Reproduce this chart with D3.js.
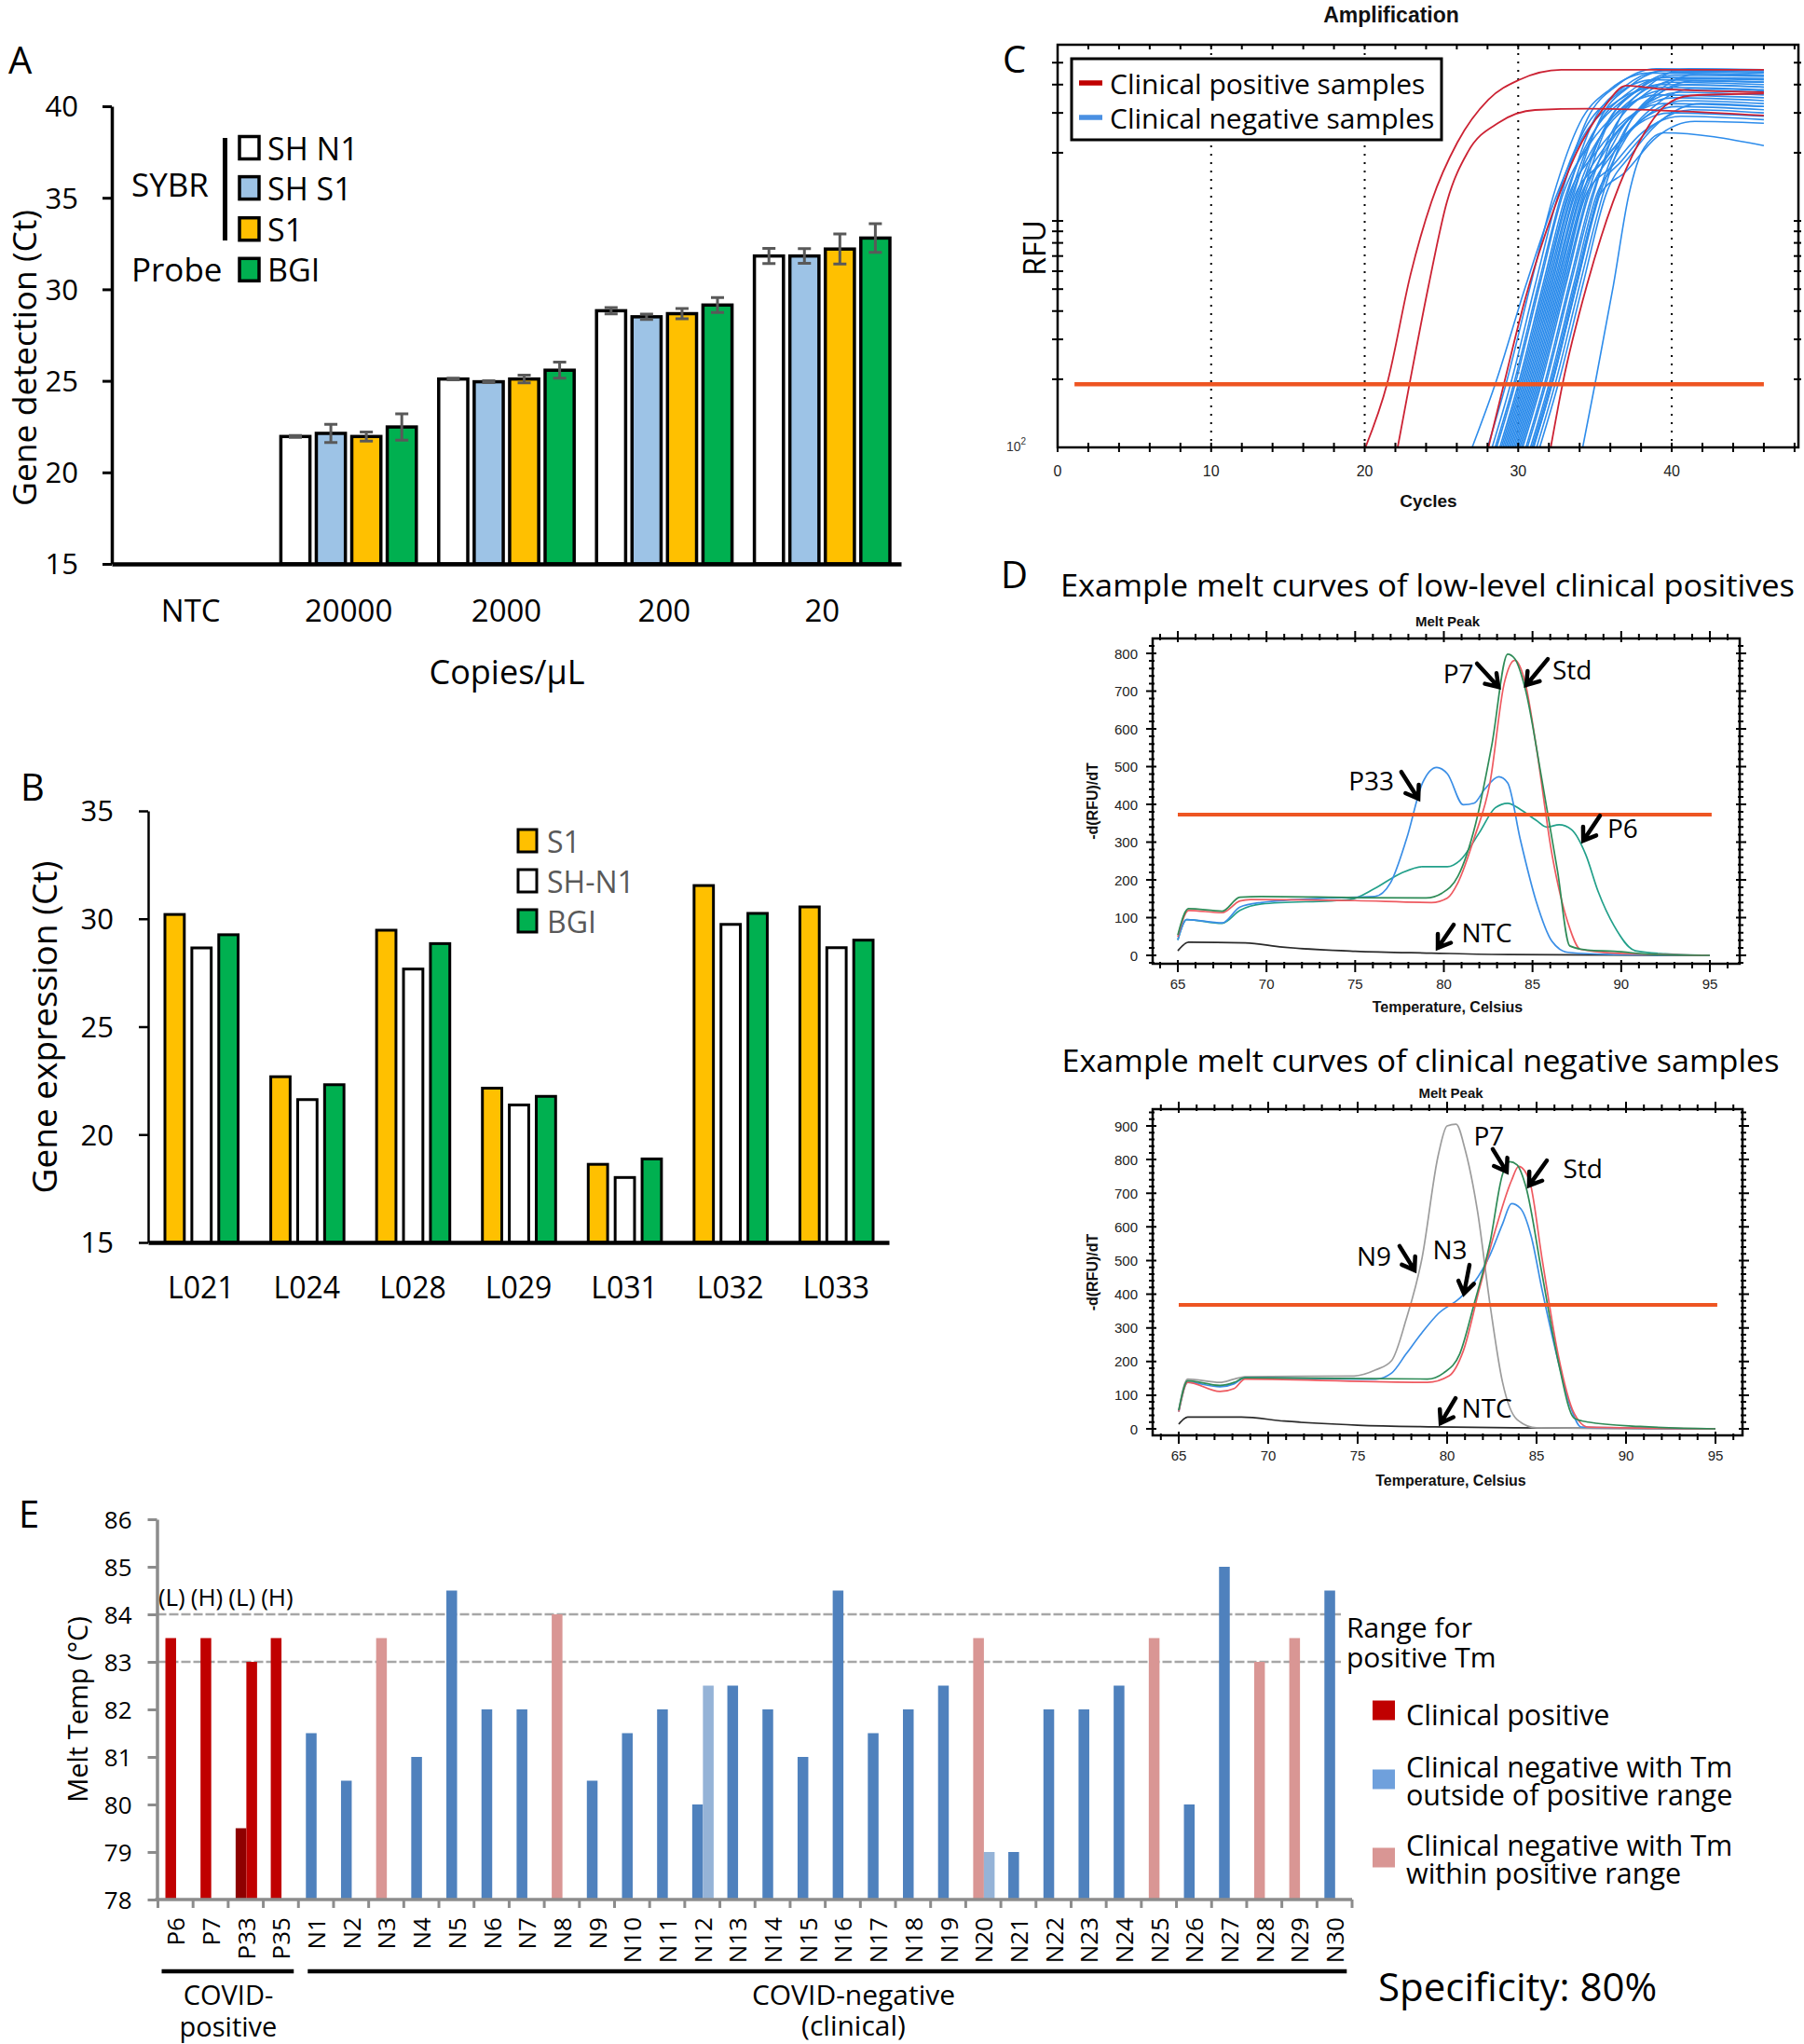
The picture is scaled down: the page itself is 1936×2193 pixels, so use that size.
<!DOCTYPE html>
<html><head><meta charset="utf-8">
<script src="https://cdn.jsdelivr.net/npm/d3@7"></script>
<style>html,body{margin:0;padding:0;background:#fff}svg{display:block}</style>
</head><body>
<svg id="fig" width="1936" height="2193" xmlns="http://www.w3.org/2000/svg"></svg>
<script>
// ================= DATA =================
// Panel A
const catsA = ["NTC","20000","2000","200","20"];
const seriesA = ["SH N1","SH S1","S1","BGI"];
const ctA_SHN1 = [null,21.96,25.10,28.83,31.82];
const ctA_SHS1 = [null,22.13,24.95,28.50,31.82];
const ctA_S1   = [null,21.96,25.10,28.67,32.20];
const ctA_BGI  = [null,22.48,25.58,29.14,32.80];
const sdA_SHN1 = [null,0.05,0.05,0.17,0.41];
const sdA_SHS1 = [null,0.50,0.05,0.15,0.40];
const sdA_S1   = [null,0.25,0.21,0.28,0.82];
const sdA_BGI  = [null,0.72,0.44,0.41,0.78];
const ticksA = [15,20,25,30,35,40];

// Panel B
const catsB = ["L021","L024","L028","L029","L031","L032","L033"];
const seriesB = ["S1","SH-N1","BGI"];
const ctB_S1   = [30.20,22.68,29.47,22.15,18.62,31.54,30.55];
const ctB_SHN1 = [28.65,21.62,27.67,21.37,18.01,29.74,28.66];
const ctB_BGI  = [29.26,22.31,28.85,21.77,18.87,30.25,29.01];
const ticksB = [15,20,25,30,35];

// Panel C  (cycle, RFU)
const ampPositive = [
 [[20.05,100],[21.47,192],[22.99,581],[24.35,1216],[26.04,2223],[28.06,3434],[30.09,4207],[32.8,4654],[46,4654]],
 [[22.15,100],[22.93,192],[24.18,525],[25.36,1216],[26.71,2010],[28.74,2718],[31.1,3090],[34.5,3130],[46,2924]],
 [[28.06,100],[29.08,192],[30.43,446],[32.12,1028],[33.81,2010],[35.5,3110],[37.03,3960],[39.2,3830],[46,3706]],
 [[32.12,100],[32.9,192],[34.49,525],[36.18,1216],[37.87,2223],[39.56,3222],[41.25,3580],[46,3656]]
];
const ampNegative = [
 [[27.0,100],[28.5,190],[30.5,520],[32.5,1300],[34.3,2400],[36.5,3400],[39.0,3900],[46,3800]],
 [[28.0,100],[29.2,190],[30.8,520],[32.3,1300],[34.0,2700],[36.0,3825],[38.5,4500],[46,4400]],
 [[28.3,100],[29.5,190],[31.1,520],[32.6,1300],[34.3,2520],[36.3,3570],[38.8,4200],[46,4100]],
 [[28.5,100],[29.7,190],[31.3,520],[32.8,1300],[34.5,2820],[36.5,3995],[39.0,4700],[46,4650]],
 [[28.6,100],[29.8,190],[31.4,520],[32.9,1300],[34.6,2160],[36.6,3060],[39.1,3600],[46,3500]],
 [[28.8,100],[30.0,190],[31.6,520],[33.1,1300],[34.8,2400],[36.8,3400],[39.3,4000],[46,3900]],
 [[28.9,100],[30.1,190],[31.7,520],[33.2,1300],[34.9,2760],[36.9,3910],[39.4,4600],[46,4550]],
 [[29.0,100],[30.2,190],[31.8,520],[33.3,1300],[35.0,1980],[37.0,2805],[39.5,3300],[46,3200]],
 [[29.1,100],[30.3,190],[31.9,520],[33.4,1300],[35.1,2580],[37.1,3655],[39.6,4300],[46,4250]],
 [[29.2,100],[30.4,190],[32.0,520],[33.5,1300],[35.2,2280],[37.2,3230],[39.7,3800],[46,3700]],
 [[29.3,100],[30.5,190],[32.1,520],[33.6,1300],[35.3,2790],[37.3,3950],[39.8,4650],[46,4600]],
 [[29.4,100],[30.6,190],[32.2,520],[33.7,1300],[35.4,1800],[37.4,2550],[39.9,3000],[46,2900]],
 [[29.5,100],[30.7,190],[32.3,520],[33.8,1300],[35.5,2460],[37.5,3485],[40.0,4100],[46,4000]],
 [[29.6,100],[30.8,190],[32.4,520],[33.9,1300],[35.6,2100],[37.6,2975],[40.1,3500],[46,3400]],
 [[29.7,100],[30.9,190],[32.5,520],[34.0,1300],[35.7,2640],[37.7,3740],[40.2,4400],[46,4350]],
 [[29.8,100],[31.0,190],[32.6,520],[34.1,1300],[35.8,1920],[37.8,2720],[40.3,3200],[46,3100]],
 [[29.9,100],[31.1,190],[32.7,520],[34.2,1300],[35.9,2730],[37.9,3870],[40.4,4550],[46,4500]],
 [[30.0,100],[31.2,190],[32.8,520],[34.3,1300],[36.0,2220],[38.0,3145],[40.5,3700],[46,3600]],
 [[30.1,100],[31.3,190],[32.9,520],[34.4,1300],[36.1,1740],[38.1,2465],[40.6,2900],[46,2800]],
 [[30.2,100],[31.4,190],[33.0,520],[34.5,1300],[36.2,2550],[38.2,3610],[40.7,4250],[46,4200]],
 [[30.3,100],[31.5,190],[33.1,520],[34.6,1300],[36.3,2040],[38.3,2890],[40.8,3400],[46,3300]],
 [[30.5,100],[31.7,190],[33.3,520],[34.8,1300],[36.5,2400],[38.5,3400],[41.0,4000],[46,3900]],
 [[30.6,100],[31.8,190],[33.4,520],[34.9,1300],[36.6,2820],[38.6,3995],[41.1,4700],[46,4650]],
 [[30.8,100],[32.0,190],[33.6,520],[35.1,1300],[36.8,1860],[38.8,2635],[41.3,3100],[46,3000]],
 [[31.0,100],[32.2,190],[33.8,520],[35.3,1300],[37.0,2310],[39.0,3270],[41.5,3850],[46,3750]],
 [[31.2,100],[32.4,190],[34.0,520],[35.5,1300],[37.2,2670],[39.2,3780],[41.7,4450],[46,4400]],
 [[31.4,100],[32.6,190],[34.2,520],[35.7,1300],[37.4,1980],[39.4,2805],[41.9,3300],[46,3200]],
 [[31.0,100],[32.2,190],[33.8,520],[35.3,1300],[37.0,1650],[39.0,2340],[41.5,2750],[46,2700]],
 [[30.9,100],[32.1,190],[33.7,520],[35.2,1300],[36.9,2490],[38.9,3530],[41.4,4150],[46,4100]],
 [[34.2,100],[35.0,190],[36.2,520],[37.2,1300],[38.2,2100],[39.5,2450],[46,2150]]
];
const ampThreshold = 190;
const ampThreshRange = [1.1, 46];
const cyclesTicks = [0,10,20,30,40];
const cyclesGrid = [10,20,30,40];
const rfuTicks = [200,300,400,500,600,700,800,900,1000,2000,3000,4000,5000];

// Panel D (temperature °C, -d(RFU)/dT)
const meltTopStd = [[65,49],[65.6,119],[67.5,113],[68.5,144],[69.1,148],[75,145],[79.3,140],[80.2,152],[80.8,193],[81.7,309],[82.6,457],[83.4,720],[84,782],[84.6,720],[85.2,556],[86.1,267],[87,86],[87.7,16],[89.6,6],[95,0]];
const meltTopP7 = [[65,54],[65.6,124],[67.5,117],[68.5,154],[69.7,156],[75,153],[79,152],[79.9,165],[80.8,210],[81.8,350],[82.7,556],[83.6,798],[84,786],[84.6,704],[85.5,473],[86.4,226],[87.1,25],[88.1,14],[89.6,11],[91.9,2],[95,0]];
const meltTopP33 = [[65,41],[65.5,95],[67.5,86],[68.5,128],[69.7,140],[73.5,152],[76.1,156],[77,193],[77.9,309],[78.8,457],[79.6,498],[80.2,481],[81.1,399],[81.7,403],[82.3,440],[83.1,473],[83.6,457],[84.3,309],[85.2,144],[86.1,37],[87,8],[89.6,2],[95,0]];
const meltTopP6 = [[65,41],[65.5,95],[67.5,85],[68.5,119],[69.7,136],[74.7,148],[76.1,177],[77.6,218],[78.8,235],[80.2,235],[80.9,251],[82,325],[82.9,391],[83.6,403],[84.3,387],[85.2,358],[85.8,340],[86.5,346],[87.2,333],[88,267],[88.7,169],[89.6,78],[90.8,12],[92.5,4],[95,0]];
const meltTopNTC = [[65,12],[65.6,35],[68.8,33],[70.9,22],[75,11],[79.3,6],[83.7,2],[95,0]];
const meltBotN9 = [[65,55],[65.5,148],[67.3,138],[68.1,148],[68.7,155],[74.8,157],[76,175],[76.9,203],[77.7,323],[78.6,508],[79.5,812],[80,900],[80.5,905],[81,831],[81.7,646],[82.4,369],[83.1,138],[83.9,28],[85,3],[95,0]];
const meltBotN3 = [[65,51],[65.5,138],[67.3,125],[68.1,134],[68.7,152],[76,148],[76.9,166],[77.7,222],[78.6,286],[79.5,342],[80.7,388],[81.5,434],[82.4,517],[83.1,609],[83.6,669],[84.1,655],[84.7,572],[85.3,415],[86.2,203],[86.9,65],[87.5,5],[95,0]];
const meltBotP7 = [[65,55],[65.5,143],[67.3,129],[68.1,138],[68.7,152],[78.9,148],[79.8,166],[80.7,222],[81.5,369],[82.4,554],[83.1,757],[83.5,794],[83.9,785],[84.4,720],[85.3,462],[86.2,203],[87.1,32],[87.9,20],[90.8,7],[95,0]];
const meltBotStd = [[65,51],[65.5,138],[67.3,111],[68.1,120],[68.7,148],[78.9,138],[80.1,157],[80.9,231],[81.8,415],[82.7,591],[83.6,738],[84,780],[84.6,738],[85.3,508],[86.2,222],[87.1,46],[87.9,5],[95,0]];
const meltBotNTC = [[65,14],[65.5,35],[68.5,35],[70.9,23],[75,11],[79.3,6],[83.7,3],[95,0]];
const meltThreshTop = 373, meltThreshBot = 368;
const annTop = [
 {label:"P7", tx:80.82, ty:749, anchor:"middle", from:[81.87,773], to:[83.08,711]},
 {label:"Std", tx:86.12, ty:758, anchor:"start", from:[85.86,785], to:[84.65,716]},
 {label:"P33", tx:77.19, ty:465, anchor:"end", from:[77.6,486], to:[78.56,415]},
 {label:"P6", tx:89.22, ty:338, anchor:"start", from:[88.8,370], to:[87.86,304]},
 {label:"NTC", tx:81.0, ty:62, anchor:"start", from:[80.55,81], to:[79.66,20]}
];
const annBot = [
 {label:"P7", tx:82.34, ty:872, anchor:"middle", from:[82.55,831], to:[83.33,764]},
 {label:"Std", tx:86.48, ty:775, anchor:"start", from:[85.57,797], to:[84.58,723]},
 {label:"N9", tx:76.88, ty:515, anchor:"end", from:[77.34,543], to:[78.18,471]},
 {label:"N3", tx:80.16, ty:534, anchor:"middle", from:[81.25,487], to:[80.94,402]},
 {label:"NTC", tx:80.81, ty:64, anchor:"start", from:[80.47,91], to:[79.64,17]}
];

// Panel E
const catsE = ["P6","P7","P33","P35","N1","N2","N3","N4","N5","N6","N7","N8","N9","N10","N11","N12","N13","N14","N15","N16","N17","N18","N19","N20","N21","N22","N23","N24","N25","N26","N27","N28","N29","N30"];
const tmPrimary = [83.5,83.5,79.5,83.5,81.5,80.5,83.5,81,84.5,82,82,84,80.5,81.5,82,80,82.5,82,81,84.5,81.5,82,82.5,83.5,79,82,82,82.5,83.5,80,85,83,83.5,84.5];
const grpPrimary = ["pos","pos","posLow","pos","out","out","in","out","out","out","out","in","out","out","out","out","out","out","out","out","out","out","out","in","out","out","out","out","in","out","out","in","in","out"];
const tmSecondary = [null,null,83,null,null,null,null,null,null,null,null,null,null,null,null,82.5,null,null,null,null,null,null,null,79,null,null,null,null,null,null,null,null,null,null];
const grpSecondary = [null,null,"pos",null,null,null,null,null,null,null,null,null,null,null,null,"outLight",null,null,null,null,null,null,null,"outLight",null,null,null,null,null,null,null,null,null,null];
const ticksE = [78,79,80,81,82,83,84,85,86];
const tmRange = [83,84];
const lhLabels = ["(L)","(H)","(L)","(H)"];

// ================= DRAW =================
const svg = d3.select("#fig");
const FS = '"Open Sans","Noto Sans",sans-serif';
const FA = '"Liberation Sans",Arial,sans-serif';
function T(g,x,y,s,o={}){
  const t=g.append("text").attr("x",x).attr("y",y)
   .attr("font-family",o.ff||FS).attr("font-size",o.fs||30).attr("fill",o.fill||"#000")
   .attr("text-anchor",o.anchor||"start").attr("dominant-baseline",o.base||"central");
  if(Array.isArray(s)){
    s.forEach((line,i)=>t.append("tspan").attr("x",x).attr("dy",i===0?0:(o.lh||30)).text(line));
  } else t.text(s);
  if(o.fw) t.attr("font-weight",o.fw);
  if(o.rot) t.attr("transform",`rotate(${o.rot},${x},${y})`);
  if(o.len) t.attr("textLength",o.len).attr("lengthAdjust","spacingAndGlyphs");
  return t;
}
function styleAxis(ax,o){
  ax.select(".domain").attr("stroke",o.color||"#000").attr("stroke-width",o.dw||3);
  ax.selectAll(".tick line").attr("stroke",o.color||"#000").attr("stroke-width",o.tw||3);
  ax.selectAll(".tick text").attr("font-family",o.ff||FS).attr("font-size",o.fs||30).attr("fill",o.fill||"#000");
}

// ---------- Panel A ----------
(function(){
  const g=svg.append("g");
  T(g,9,79,"A",{fs:40,base:"alphabetic"});
  const yA=d3.scaleLinear().domain([15,40]).range([605,114]);
  const xA=d3.scaleBand().domain(catsA).range([120,967]);
  const xA1=d3.scaleBand().domain(seriesA).range([12,xA.bandwidth()-12]).paddingInner(0.18);
  const ct=[ctA_SHN1,ctA_SHS1,ctA_S1,ctA_BGI], sd=[sdA_SHN1,sdA_SHS1,sdA_S1,sdA_BGI];
  const col=["#FFFFFF","#9DC3E6","#FFC000","#00B050"];
  seriesA.forEach((s,i)=>{
    const rows=catsA.map((c,j)=>({c,v:ct[i][j],e:sd[i][j]})).filter(d=>d.v!=null);
    g.selectAll(null).data(rows).enter().append("rect")
      .attr("x",d=>xA(d.c)+xA1(s)).attr("y",d=>yA(d.v))
      .attr("width",xA1.bandwidth()).attr("height",d=>yA(15)-yA(d.v))
      .attr("fill",col[i]).attr("stroke","#000").attr("stroke-width",3.5);
    g.selectAll(null).data(rows).enter().append("path")
      .attr("d",d=>{const cx=xA(d.c)+xA1(s)+xA1.bandwidth()/2;return `M${cx},${yA(d.v-d.e)}V${yA(d.v+d.e)}M${cx-7},${yA(d.v-d.e)}h14M${cx-7},${yA(d.v+d.e)}h14`;})
      .attr("stroke","#595959").attr("stroke-width",3).attr("fill","none");
  });
  const ay=g.append("g").attr("transform","translate(120,0)")
    .call(d3.axisLeft(yA).tickValues(ticksA).tickSize(10).tickSizeOuter(0).tickPadding(26));
  styleAxis(ay,{dw:3.5,tw:3,fs:31});
  ay.selectAll(".tick text").attr("dy","0.35em");
  const ax=g.append("g").attr("transform","translate(0,605)")
    .call(d3.axisBottom(xA).tickSize(0).tickSizeOuter(0));
  styleAxis(ax,{dw:4.5,fs:33});
  ax.selectAll(".tick text").attr("y",50).attr("dy","0.35em");
  T(g,544,720,"Copies/µL",{fs:36,anchor:"middle"});
  T(g,25,384,"Gene detection (Ct)",{fs:35.5,anchor:"middle",rot:-90});
  T(g,141,197,"SYBR",{fs:35});
  T(g,141,288,"Probe",{fs:35});
  g.append("rect").attr("x",239).attr("y",148).attr("width",5).attr("height",110).attr("fill","#000");
  const ly=[158.5,201.6,245.7,289.3];
  seriesA.forEach((s,i)=>{
    g.append("rect").attr("x",257).attr("y",ly[i]-12).attr("width",21).attr("height",24)
      .attr("fill",col[i]).attr("stroke","#000").attr("stroke-width",3.5);
    T(g,287,ly[i],s,{fs:34});
  });
})();

// ---------- Panel B ----------
(function(){
  const g=svg.append("g");
  T(g,22,859,"B",{fs:40,base:"alphabetic"});
  const yB=d3.scaleLinear().domain([15,35]).range([1333,870]);
  const xB=d3.scaleBand().domain(catsB).range([159,954]);
  const xB1=d3.scaleBand().domain(seriesB).range([18,xB.bandwidth()-17]).paddingInner(0.28);
  const ct=[ctB_S1,ctB_SHN1,ctB_BGI];
  const col=["#FFC000","#FFFFFF","#00B050"];
  seriesB.forEach((s,i)=>{
    g.selectAll(null).data(catsB.map((c,j)=>({c,v:ct[i][j]}))).enter().append("rect")
      .attr("x",d=>xB(d.c)+xB1(s)).attr("y",d=>yB(d.v))
      .attr("width",xB1.bandwidth()).attr("height",d=>yB(15)-yB(d.v))
      .attr("fill",col[i]).attr("stroke","#000").attr("stroke-width",3);
  });
  const ay=g.append("g").attr("transform","translate(159,0)")
    .call(d3.axisLeft(yB).tickValues(ticksB).tickSize(10).tickSizeOuter(0).tickPadding(27));
  styleAxis(ay,{dw:2.5,tw:2.5,fs:31});
  ay.selectAll(".tick text").attr("dy","0.35em");
  const ax=g.append("g").attr("transform","translate(0,1333)")
    .call(d3.axisBottom(xB).tickSize(0).tickSizeOuter(0));
  styleAxis(ax,{dw:4.5,fs:32});
  ax.selectAll(".tick text").attr("y",49).attr("dy","0.35em");
  T(g,46,1102,"Gene expression (Ct)",{fs:37,anchor:"middle",rot:-90});
  const ly=[902,945,988];
  seriesB.forEach((s,i)=>{
    g.append("rect").attr("x",556).attr("y",ly[i]-12).attr("width",20).attr("height",24)
      .attr("fill",col[i]).attr("stroke","#000").attr("stroke-width",3);
    T(g,587,ly[i],s,{fs:32,fill:"#595959"});
  });
})();

// ---------- Panel C ----------
(function(){
  const g=svg.append("g");
  const xC=d3.scaleLinear().domain([0,48.25]).range([1135,1930]);
  const yC=d3.scaleLog().domain([100,6000]).range([480,48]);
  const [x0,x1]=xC.range(), y1=yC(100), y0=yC(6000);
  T(g,1493,16,"Amplification",{ff:FA,fs:23,fw:"bold",anchor:"middle",fill:"#111"});
  T(g,1076,78,"C",{fs:40,base:"alphabetic"});
  g.append("defs").append("clipPath").attr("id","clipC").append("rect")
    .attr("x",x0).attr("y",y0).attr("width",x1-x0).attr("height",y1-y0);
  g.selectAll(null).data(cyclesGrid).enter().append("line")
    .attr("x1",d=>xC(d)).attr("x2",d=>xC(d)).attr("y1",y0).attr("y2",y1)
    .attr("stroke","#000").attr("stroke-width",2).attr("stroke-dasharray","2,7");
  const line=d3.line().x(d=>xC(d[0])).y(d=>yC(d[1])).curve(d3.curveMonotoneX);
  const cg=g.append("g").attr("clip-path","url(#clipC)");
  cg.selectAll(null).data(ampNegative).enter().append("path").attr("d",line)
    .attr("fill","none").attr("stroke","#2D8CEB").attr("stroke-width",1.6);
  cg.selectAll(null).data(ampPositive).enter().append("path").attr("d",line)
    .attr("fill","none").attr("stroke","#CC2233").attr("stroke-width",1.8);
  g.append("line").attr("x1",xC(ampThreshRange[0])).attr("x2",xC(ampThreshRange[1]))
    .attr("y1",yC(ampThreshold)).attr("y2",yC(ampThreshold))
    .attr("stroke","#EE5522").attr("stroke-width",4.5);
  g.append("rect").attr("x",x0).attr("y",y0).attr("width",x1-x0).attr("height",y1-y0)
    .attr("fill","none").attr("stroke","#000").attr("stroke-width",2.5);
  const tk=d3.range(0,49,2);
  g.selectAll(null).data(tk).enter().append("line").attr("x1",d=>xC(d)).attr("x2",d=>xC(d))
    .attr("y1",y1-5).attr("y2",y1+5).attr("stroke","#000").attr("stroke-width",2);
  g.selectAll(null).data(tk).enter().append("line").attr("x1",d=>xC(d)).attr("x2",d=>xC(d))
    .attr("y1",y0).attr("y2",y0+5).attr("stroke","#000").attr("stroke-width",2);
  g.selectAll(null).data(rfuTicks).enter().append("line").attr("x1",x0-6).attr("x2",x0+6)
    .attr("y1",d=>yC(d)).attr("y2",d=>yC(d)).attr("stroke","#000").attr("stroke-width",2);
  g.selectAll(null).data(rfuTicks).enter().append("line").attr("x1",x1-5).attr("x2",x1+3)
    .attr("y1",d=>yC(d)).attr("y2",d=>yC(d)).attr("stroke","#000").attr("stroke-width",2);
  cyclesTicks.forEach(t=>T(g,xC(t),505,String(t),{ff:FA,fs:16,anchor:"middle",fill:"#222"}));
  const lab=g.append("text").attr("x",1080).attr("y",484).attr("font-family",FA).attr("font-size",14).attr("fill","#333");
  lab.append("tspan").text("10");
  lab.append("tspan").text("2").attr("font-size",10).attr("dy",-7);
  T(g,1533,537,"Cycles",{ff:FA,fs:19,fw:"bold",anchor:"middle",fill:"#111"});
  T(g,1109,266,"RFU",{fs:32,anchor:"middle",rot:-90});
  g.append("rect").attr("x",1150).attr("y",63).attr("width",397).attr("height",87)
    .attr("fill","#fff").attr("stroke","#000").attr("stroke-width",3);
  [["Clinical positive samples","#C00000",89],["Clinical negative samples","#4A90E2",126]].forEach(([s,c,y])=>{
    g.append("line").attr("x1",1158).attr("x2",1183).attr("y1",y).attr("y2",y).attr("stroke",c).attr("stroke-width",5.5);
    T(g,1191,y,s,{fs:30});
  });
})();

// ---------- Panel D ----------
function arrowPath(p1,p2){
  const a=Math.atan2(p2[1]-p1[1],p2[0]-p1[0]),L=15,sp=0.6;
  return `M${p1[0]},${p1[1]}L${p2[0]},${p2[1]}M${p2[0]-L*Math.cos(a-sp)},${p2[1]-L*Math.sin(a-sp)}L${p2[0]},${p2[1]}L${p2[0]-L*Math.cos(a+sp)},${p2[1]-L*Math.sin(a+sp)}`;
}
function meltPanel(cfg){
  const g=svg.append("g");
  const x=d3.scaleLinear().domain([65,95]).range(cfg.xr);
  const y=d3.scaleLinear().domain([0,cfg.ymax]).range(cfg.yr);
  const [fx0,fx1,fy0,fy1]=cfg.frame;
  T(g,(fx0+fx1)/2+cfg.titleDx,cfg.titleY,cfg.title,{fs:33,anchor:"middle",len:cfg.titleLen});
  T(g,x(80)+4,cfg.peakY,"Melt Peak",{ff:FA,fs:15,fw:"bold",anchor:"middle",fill:"#111"});
  const id="clip"+cfg.id;
  g.append("defs").append("clipPath").attr("id",id).append("rect")
    .attr("x",fx0).attr("y",fy0).attr("width",fx1-fx0).attr("height",fy1-fy0);
  const line=d3.line().x(d=>x(d[0])).y(d=>y(d[1])).curve(d3.curveMonotoneX);
  const cg=g.append("g").attr("clip-path",`url(#${id})`);
  cfg.curves.forEach(([data,color])=>cg.append("path").datum(data).attr("d",line)
    .attr("fill","none").attr("stroke",color).attr("stroke-width",1.7));
  g.append("line").attr("x1",x(65)).attr("x2",x(95.1)).attr("y1",y(cfg.thresh)).attr("y2",y(cfg.thresh))
    .attr("stroke","#EE5522").attr("stroke-width",4);
  g.append("rect").attr("x",fx0).attr("y",fy0).attr("width",fx1-fx0).attr("height",fy1-fy0)
    .attr("fill","none").attr("stroke","#000").attr("stroke-width",2.5);
  const yv=d3.range(Math.ceil(y.invert(fy1)/20)*20,y.invert(fy0),20);
  g.selectAll(null).data(yv).enter().append("path")
    .attr("d",v=>{const M=v%100===0,py=y(v);return `M${fx0-(M?7:4)},${py}H${fx0+(M?4:2)}M${fx1-(M?4:2)},${py}H${fx1+(M?7:4)}`;})
    .attr("stroke","#000").attr("stroke-width",2);
  const xv=d3.range(Math.ceil(x.invert(fx0)),x.invert(fx1));
  g.selectAll(null).data(xv).enter().append("path")
    .attr("d",t=>{const M=t%5===0,px=x(t);return `M${px},${fy1-(M?4:2)}V${fy1+(M?9:5)}M${px},${fy0-(M?8:5)}V${fy0+(M?4:2)}`;})
    .attr("stroke","#000").attr("stroke-width",2);
  d3.range(0,cfg.ymax+1,100).forEach(v=>T(g,fx0-16,y(v),String(v),{ff:FA,fs:15,anchor:"end",fill:"#222"}));
  d3.range(65,96,5).forEach(t=>T(g,x(t),fy1+21,String(t),{ff:FA,fs:15,anchor:"middle",fill:"#222"}));
  T(g,1172,(fy0+fy1)/2,"-d(RFU)/dT",{ff:FA,fs:16,fw:"bold",anchor:"middle",rot:-90,fill:"#111"});
  T(g,x(80)+4,cfg.xlabY,"Temperature, Celsius",{ff:FA,fs:16,fw:"bold",anchor:"middle",fill:"#111"});
  cfg.ann.forEach(a=>{
    g.append("path").attr("d",arrowPath([x(a.from[0]),y(a.from[1])],[x(a.to[0]),y(a.to[1])]))
      .attr("fill","none").attr("stroke","#000").attr("stroke-width",4.5).attr("stroke-linecap","round");
    T(g,x(a.tx),y(a.ty),a.label,{fs:28,anchor:a.anchor});
  });
  return g;
}
T(svg,1074,631,"D",{fs:40,base:"alphabetic"});
meltPanel({id:"top",xr:[1264,1835],ymax:800,yr:[1025,701],frame:[1237,1867,685,1034],
  title:"Example melt curves of low-level clinical positives",titleY:627,titleDx:-20,titleLen:788,
  peakY:666,xlabY:1080,thresh:meltThreshTop,ann:annTop,
  curves:[[meltTopNTC,"#2A2A2A"],[meltTopP6,"#22A08A"],[meltTopP33,"#3A8EE6"],[meltTopStd,"#EE5A60"],[meltTopP7,"#2E8B57"]]});
meltPanel({id:"bot",xr:[1265,1841],ymax:900,yr:[1533,1208],frame:[1237,1870,1190,1540],
  title:"Example melt curves of clinical negative samples",titleY:1137,titleDx:-29,titleLen:770,
  peakY:1172,xlabY:1588,thresh:meltThreshBot,ann:annBot,
  curves:[[meltBotNTC,"#2A2A2A"],[meltBotN9,"#9C9C9C"],[meltBotN3,"#3A8EE6"],[meltBotStd,"#EE5A60"],[meltBotP7,"#2E8B57"]]});

// ---------- Panel E ----------
(function(){
  const g=svg.append("g");
  T(g,20,1639,"E",{fs:40,base:"alphabetic"});
  const xE=d3.scaleBand().domain(catsE).range([169.5,1451]);
  const xE1=d3.scaleBand().domain([0,1]).range([8,31]);
  const yE=d3.scaleLinear().domain([78,86]).range([2038,1630]);
  const colE={pos:"#C00000",posLow:"#8E0000",out:"#4F81BD",outLight:"#95B3D7",in:"#D99694"};
  g.selectAll(null).data(tmRange).enter().append("line")
    .attr("x1",168.5).attr("x2",xE.range()[1]-12).attr("y1",d=>yE(d)).attr("y2",d=>yE(d))
    .attr("stroke","#A6A6A6").attr("stroke-width",2.5).attr("stroke-dasharray","10,3");
  const p=catsE.map((c,i)=>({c,v:tmPrimary[i],k:grpPrimary[i]}));
  const s=catsE.map((c,i)=>({c,v:tmSecondary[i],k:grpSecondary[i]})).filter(d=>d.v!=null);
  g.selectAll(null).data(p).enter().append("rect")
    .attr("x",d=>xE(d.c)+xE1(0)).attr("y",d=>yE(d.v)).attr("width",xE1.bandwidth())
    .attr("height",d=>yE(78)-yE(d.v)).attr("fill",d=>colE[d.k]);
  g.selectAll(null).data(s).enter().append("rect")
    .attr("x",d=>xE(d.c)+xE1(1)).attr("y",d=>yE(d.v)).attr("width",xE1.bandwidth())
    .attr("height",d=>yE(78)-yE(d.v)).attr("fill",d=>colE[d.k]);
  const ay=g.append("g").attr("transform","translate(168.5,0)")
    .call(d3.axisLeft(yE).tickValues(ticksE).tickSize(10).tickSizeOuter(0).tickPadding(17));
  styleAxis(ay,{color:"#8C8C8C",dw:3.5,tw:3,fs:26});
  ay.selectAll(".tick text").attr("dy","0.35em");
  g.append("line").attr("x1",166.5).attr("x2",xE.range()[1]).attr("y1",yE(78)).attr("y2",yE(78))
    .attr("stroke","#8C8C8C").attr("stroke-width",3.5);
  const bounds=catsE.map(c=>xE(c)).concat([xE.range()[1]]);
  g.selectAll(null).data(bounds).enter().append("line").attr("x1",d=>d).attr("x2",d=>d)
    .attr("y1",yE(78)).attr("y2",yE(78)+9).attr("stroke","#8C8C8C").attr("stroke-width",3);
  catsE.forEach(c=>T(g,xE(c)+xE.bandwidth()/2,2057,c,{fs:26,anchor:"end",rot:-90}));
  lhLabels.forEach((l,i)=>T(g,xE(catsE[i])+xE.bandwidth()/2-4,1713,l,{fs:26,anchor:"middle"}));
  T(g,82,1834,"Melt Temp (°C)",{fs:29,anchor:"middle",rot:-90});
  g.append("line").attr("x1",xE("P6")+4).attr("x2",xE("P35")+xE.bandwidth()-5).attr("y1",2115).attr("y2",2115)
    .attr("stroke","#000").attr("stroke-width",4.5);
  g.append("line").attr("x1",xE("N1")+10).attr("x2",xE("N30")+32).attr("y1",2115).attr("y2",2115)
    .attr("stroke","#000").attr("stroke-width",4.5);
  T(g,245,2139,["COVID-","positive"],{fs:29,anchor:"middle",lh:34});
  T(g,916,2139,["COVID-negative","(clinical)"],{fs:30,anchor:"middle",lh:33});
  T(g,1445,1745,["Range for","positive Tm"],{fs:30,lh:32});
  const leg=[["#C00000",1835,["Clinical positive"]],
             ["#6FA0DC",1909,["Clinical negative with Tm","outside of positive range"]],
             ["#D99694",1993,["Clinical negative with Tm","within positive range"]]];
  leg.forEach(([c,y,lines])=>{
    g.append("rect").attr("x",1473).attr("y",y-10.5).attr("width",24).attr("height",21).attr("fill",c);
    if(lines.length===1) T(g,1509,y+4,lines[0],{fs:30.5});
    else T(g,1509,y-14,lines,{fs:30.5,lh:30});
  });
  T(g,1479,2130,"Specificity: 80%",{fs:42});
})();
</script>
</body></html>
